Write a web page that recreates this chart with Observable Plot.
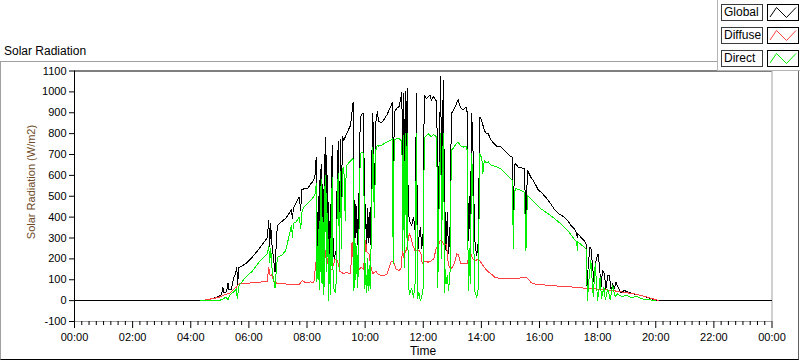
<!DOCTYPE html>
<html>
<head>
<meta charset="utf-8">
<script src="https://cdn.jsdelivr.net/npm/d3@7"></script>
<script src="https://cdn.jsdelivr.net/npm/@observablehq/plot@0.6"></script>
<style>
  html, body { margin: 0; padding: 0; background: #fff; }
  #wrap { position: relative; width: 800px; height: 361px; overflow: hidden; background: #fff;
          font-family: 'Liberation Sans', Arial, sans-serif; }
  #wrap > svg { position: absolute; left: 0; top: 0; }
  .abs { position: absolute; white-space: nowrap; }
</style>
</head>
<body>
<div id="wrap">
  <div class="abs" style="left:0;top:61px;width:797px;height:297px;border-top:1px solid #a0a0a0;border-left:1px solid #a0a0a0;border-right:1px solid #606060;border-bottom:1px solid #000;"></div>
  <div class="abs" id="title" style="left:4px;top:45px;font-size:12px;line-height:12px;color:#000;"></div>
</div>
<script>
// ---- data ----
const chartTitle = "Solar Radiation";
const yTitle = "Solar Radiation (W/m2)";
const xTitle = "Time";
const seriesNames = ["Global", "Diffuse", "Direct"];
const seriesColors = ["#000000", "#ff4040", "#00f000"];
const yTicks = [-100, 0, 100, 200, 300, 400, 500, 600, 700, 800, 900, 1000, 1100];
const xMajorTicks = [0, 2, 4, 6, 8, 10, 12, 14, 16, 18, 20, 22, 24];
const xTickLabels = ["00:00","02:00","04:00","06:00","08:00","10:00","12:00","14:00","16:00","18:00","20:00","22:00","00:00"];

const globalSeries = [
["00:00",0],["04:20",0],["04:30",3],["04:40",8],["04:50",14],["04:58",21],["05:04",30],["05:06",64],["05:09",36],["05:14",42],["05:17",83],["05:19",52],["05:24",55],["05:29",112],["05:32",125],["05:35",158],["05:37",77],["05:39",158],["05:45",165],["05:53",176],["06:07",208],["06:21",248],["06:38",301],["06:41",384],["06:43",260],["06:45",371],["06:47",280],["06:50",220],["06:54",136],["06:57",300],["06:59",360],["07:09",381],["07:16",394],["07:28",435],["07:30",392],["07:32",445],["07:44",496],["07:47",432],["07:49",530],["07:54",536],["08:01",536],["08:08",560],["08:14",576],["08:17",608],
["08:19",688],["08:20",240],["08:21",208],["08:22",420],["08:23",260],["08:24",500],["08:25",180],["08:26",380],["08:27",600],["08:28",300],["08:29",656],["08:30",420],["08:31",200],["08:32",480],["08:33",560],["08:34",250],["08:35",160],["08:36",450],["08:37",700],["08:38",500],["08:39",784],["08:40",420],["08:41",300],["08:42",520],["08:43",600],["08:44",260],["08:45",150],["08:46",380],["08:47",220],["08:48",460],["08:49",180],["08:50",420],["08:51",600],["08:52",744],["08:53",400],["08:54",260],
["08:56",200],["08:58",220],["09:00",240],["09:03",680],["09:05",760],["09:07",300],["09:09",770],["09:11",400],["09:13",784],["09:16",768],["09:20",790],["09:25",816],["09:30",840],["09:35",949],
["09:36",600],["09:37",256],["09:38",400],["09:39",480],["09:40",330],["09:41",300],["09:42",450],["09:43",420],["09:44",300],["09:45",270],["09:46",400],["09:47",450],["09:48",620],["09:50",880],["09:54",896],["09:57",896],
["09:58",600],["09:59",300],["10:00",420],["10:01",460],["10:02",320],["10:03",260],["10:04",380],["10:05",440],["10:06",300],["10:07",280],["10:08",400],["10:09",420],["10:10",300],["10:11",270],["10:12",420],["10:13",600],
["10:16",896],["10:19",480],["10:22",850],["10:25",904],["10:28",860],["10:33",852],["10:38",864],["10:45",890],["10:52",925],["10:56",949],["10:58",192],["11:00",900],["11:05",920],["11:10",930],["11:14",976],["11:16",1000],["11:17",400],["11:18",700],["11:19",990],["11:20",600],["11:21",300],["11:22",800],["11:23",1000],["11:24",700],["11:25",560],["11:26",900],["11:27",1016],["11:29",420],["11:32",380],["11:36",360],["11:40",400],["11:43",340],["11:46",992],["11:48",208],["11:51",300],["11:54",350],["11:57",250],["12:00",330],["12:02",984],["12:06",968],["12:10",975],["12:14",984],["12:17",960],["12:21",976],["12:25",965],["12:28",950],["12:30",320],["12:33",700],["12:36",1075],["12:38",480],["12:40",900],["12:42",1056],["12:44",280],["12:46",420],["12:47",240],["12:49",380],["12:50",420],["12:52",224],["12:54",350],["12:55",260],["12:58",896],["13:02",912],["13:06",930],["13:12",963],["13:16",930],["13:22",912],["13:28",928],["13:31",900],["13:33",288],["13:35",500],["13:37",300],["13:40",896],["13:43",700],["13:46",300],["13:50",216],["13:53",260],["13:57",880],["14:01",860],["14:06",816],["14:10",800],["14:14",800],["14:20",770],["14:26",752],["14:33",736],["14:40",736],["14:47",720],["14:54",704],["15:01",690],["15:04",688],["15:06",336],["15:08",650],["15:11",656],["15:16",640],["15:22",636],["15:29",632],["15:32",352],["15:35",624],["15:42",592],["15:49",568],["15:58",528],["16:03",520],["16:13",495],["16:23",464],["16:30",440],["16:40",416],["16:51",400],["16:58",384],["17:05",360],["17:12",344],["17:17",320],["17:18",300],["17:19",322],["17:25",304],["17:32",288],["17:36",272],["17:38",72],["17:41",180],["17:44",256],["17:46",256],["17:49",180],["17:53",80],["17:57",200],["18:01",224],["18:04",160],["18:07",64],["18:10",144],["18:14",128],["18:17",56],["18:21",120],["18:24",120],["18:28",48],["18:31",80],["18:35",60],["18:38",88],["18:43",60],["18:48",40],["18:55",48],["19:05",40],["19:15",32],["19:30",24],["19:42",16],["19:50",10],["20:00",0],["24:00",0]
];

const diffuseSeries = [
["04:20",0],["04:35",5],["04:50",12],["04:58",16],["05:10",28],["05:20",35],["05:29",56],["05:34",64],["05:36",72],["05:40",80],["06:00",84],["06:20",88],["06:38",93],["06:41",160],["06:44",120],["06:47",125],["06:50",100],["06:54",90],["06:59",80],["07:16",80],["07:30",75],["07:44",78],["07:50",96],["07:54",90],["08:00",85],["08:08",90],["08:14",85],["08:19",192],["08:23",150],["08:27",176],["08:31",150],["08:35",160],["08:39",240],["08:43",180],["08:47",144],["08:52",150],["08:58",200],["09:03",190],["09:08",140],["09:15",130],["09:22",135],["09:30",128],["09:33",280],["09:36",170],["09:40",150],["09:44",176],["09:48",150],["09:52",160],["09:56",150],["09:59",200],["10:01",288],["10:04",230],["10:08",224],["10:12",160],["10:16",130],["10:22",140],["10:28",125],["10:35",120],["10:45",125],["10:53",184],["10:58",190],["11:04",150],["11:10",144],["11:14",152],["11:17",240],["11:20",208],["11:23",232],["11:26",250],["11:31",320],["11:35",300],["11:39",260],["11:43",240],["11:47",240],["11:51",240],["11:55",230],["11:58",176],["12:04",190],["12:10",184],["12:16",190],["12:22",200],["12:27",256],["12:30",250],["12:35",288],["12:38",288],["12:43",264],["12:48",270],["12:52",170],["12:57",150],["13:04",176],["13:09",224],["13:13",220],["13:17",176],["13:24",180],["13:31",176],["13:35",232],["13:38",230],["13:42",200],["13:47",190],["13:53",200],["13:59",184],["14:06",160],["14:13",140],["14:20",128],["14:28",112],["14:35",108],["14:40",104],["15:00",104],["15:15",106],["15:27",112],["15:35",108],["15:42",88],["15:49",80],["16:23",72],["16:58",67],["17:36",59],["18:07",54],["18:41",45],["19:16",32],["19:44",16],["20:02",3],["20:05",0]
];

const directSeries = [
["04:20",0],["04:58",0],["05:04",5],["05:08",10],["05:12",16],["05:17",5],["05:20",24],["05:25",35],["05:30",45],["05:34",56],["05:36",10],["05:40",77],["05:47",93],["05:53",112],["06:07",141],["06:21",184],["06:38",224],["06:41",260],["06:43",180],["06:45",250],["06:48",150],["06:51",100],["06:54",60],["06:57",160],["06:59",208],["07:09",220],["07:16",240],["07:28",360],["07:30",304],["07:32",370],["07:37",376],["07:44",400],["07:47",344],["07:50",432],["07:54",448],["08:01",464],["08:08",480],["08:14",500],["08:17",512],
["08:19",560],["08:20",90],["08:21",112],["08:22",260],["08:23",100],["08:24",340],["08:25",50],["08:26",220],["08:27",400],["08:28",140],["08:29",580],["08:30",260],["08:31",80],["08:32",320],["08:33",400],["08:34",90],["08:35",30],["08:36",290],["08:37",550],["08:38",330],["08:39",600],["08:40",230],["08:41",140],["08:42",340],["08:43",420],["08:44",90],["08:45",0],["08:46",220],["08:47",80],["08:48",300],["08:49",30],["08:50",260],["08:51",440],["08:52",590],["08:53",240],["08:54",110],
["08:56",50],["08:58",40],["09:00",80],["09:03",560],["09:05",608],["09:07",150],["09:09",620],["09:11",250],["09:13",630],["09:16",640],["09:19",384],["09:21",645],["09:25",656],["09:30",670],["09:35",680],
["09:36",420],["09:37",48],["09:38",220],["09:39",300],["09:40",150],["09:41",100],["09:42",260],["09:43",250],["09:44",120],["09:45",60],["09:46",220],["09:47",280],["09:48",450],["09:50",704],["09:54",710],["09:57",704],
["09:58",420],["09:59",60],["10:00",180],["10:01",150],["10:02",60],["10:03",40],["10:04",130],["10:05",200],["10:06",70],["10:07",48],["10:08",150],["10:09",170],["10:10",70],["10:11",60],["10:12",220],["10:13",400],
["10:16",736],["10:19",400],["10:22",720],["10:25",744],["10:28",740],["10:33",744],["10:38",750],["10:45",760],["10:52",768],["10:56",775],["10:58",176],["11:00",770],["11:05",776],["11:10",776],["11:14",768],["11:16",770],["11:17",240],["11:18",500],["11:19",790],["11:20",400],["11:21",160],["11:22",600],["11:23",800],["11:24",480],["11:25",300],["11:26",680],["11:27",800],["11:29",80],["11:32",30],["11:36",60],["11:40",16],["11:43",80],["11:46",800],["11:48",10],["11:51",40],["11:54",0],["11:57",20],["12:00",60],["12:02",780],["12:06",790],["12:10",800],["12:14",790],["12:17",785],["12:21",795],["12:25",790],["12:28",780],["12:30",64],["12:33",500],["12:36",800],["12:38",200],["12:40",700],["12:42",800],["12:44",40],["12:46",150],["12:47",80],["12:49",110],["12:50",120],["12:52",48],["12:54",90],["12:55",80],["12:58",720],["13:02",730],["13:06",745],["13:12",760],["13:16",745],["13:22",735],["13:28",740],["13:31",720],["13:33",48],["13:35",250],["13:37",80],["13:40",704],["13:43",480],["13:46",50],["13:50",16],["13:53",40],["13:57",704],["14:01",680],["14:03",608],["14:06",670],["14:10",660],["14:14",665],["14:20",650],["14:26",645],["14:33",640],["14:40",632],["14:54",600],["15:04",576],["15:06",248],["15:08",520],["15:11",536],["15:22",528],["15:29",520],["15:32",240],["15:35",504],["15:49",472],["16:03",440],["16:23",408],["16:44",368],["16:58",336],["17:10",300],["17:17",280],["17:18",240],["17:19",282],["17:28",264],["17:36",248],["17:39",0],["17:42",100],["17:46",192],["17:51",20],["17:55",176],["18:00",0],["18:03",60],["18:05",112],["18:08",10],["18:13",64],["18:16",5],["18:21",56],["18:26",5],["18:31",72],["18:36",20],["18:41",32],["18:50",20],["19:00",25],["19:10",15],["19:20",20],["19:30",10],["19:40",5],["19:50",3],["20:00",0]
];

// ---- build ----
const hrs = s => { const [h, m] = s.split(":").map(Number); return h + m / 60; };
const toRows = arr => arr.map(([t, v]) => ({ t: hrs(t), v })).sort((a, b) => a.t - b.t);
const seriesRows = [globalSeries, diffuseSeries, directSeries].map(toRows);
const xMinorTicks = d3.range(0, 24.001, 0.25).filter(h => Math.abs(h / 2 - Math.round(h / 2)) > 1e-6);

const fontFam = "'Liberation Sans', Arial, sans-serif";

const chart = Plot.plot({
  width: 800,
  height: 361,
  marginLeft: 74,
  marginRight: 28.5,
  marginTop: 70.5,
  marginBottom: 40,
  x: { domain: [0, 24] },
  y: { domain: [-100, 1100] },
  style: { fontFamily: fontFam, fontSize: "11px", background: "transparent", color: "#000", overflow: "visible" },
  marks: [
    Plot.ruleX([24], { stroke: "#a0a0a0" }),
    Plot.ruleY([-100], { stroke: "#a0a0a0" }),
    ...seriesRows.map((rows, i) =>
      Plot.line(rows, { x: "t", y: "v", stroke: seriesColors[i], strokeWidth: 1, shapeRendering: "crispEdges" })
    ),
    Plot.ruleX([0], { stroke: "#000" }),
    Plot.ruleY([1100], { stroke: "#000" }),
    Plot.axisY({ ticks: yTicks, tickSize: 5, tickPadding: 3, label: null, fontSize: 11, tickFormat: d => String(d) }),
    Plot.axisX({ ticks: xMajorTicks, tickSize: 7, tickPadding: 5, label: null, fontSize: 11,
                 tickFormat: d => xTickLabels[xMajorTicks.indexOf(d)] }),
    Plot.axisX({ ticks: xMinorTicks, tickSize: 4, label: null, tickFormat: () => "" })
  ]
});

const wrap = document.getElementById("wrap");
wrap.appendChild(chart);
document.getElementById("title").textContent = chartTitle;

// axis titles
const yl = document.createElement("div");
yl.className = "abs";
yl.textContent = yTitle;
yl.style.cssText += "left:31px;top:182px;font-size:11px;line-height:11px;color:#6e4a26;transform:translate(-50%,-50%) rotate(-90deg);";
wrap.appendChild(yl);

const xl = document.createElement("div");
xl.className = "abs";
xl.textContent = xTitle;
xl.style.cssText += "left:423px;top:345px;font-size:12px;line-height:12px;color:#000;transform:translateX(-50%);";
wrap.appendChild(xl);

// legend
const lg = document.createElement("div");
lg.className = "abs";
lg.style.cssText += "left:717px;top:0;width:83px;height:71px;background:#fff;border-left:1px solid #b4b4b4;border-bottom:1px solid #b4b4b4;box-sizing:border-box;";
wrap.appendChild(lg);
seriesNames.forEach((name, i) => {
  const top = 4 + 23 * i;
  const lab = document.createElement("div");
  lab.className = "abs";
  lab.textContent = name;
  lab.style.cssText += `left:721px;top:${top}px;width:42px;height:17px;box-sizing:border-box;border:1px solid #3c3c3c;background:#fff;font-size:12px;line-height:15px;padding-left:2px;color:#000;`;
  wrap.appendChild(lab);
  const sw = document.createElement("div");
  sw.className = "abs";
  sw.style.cssText += `left:767px;top:${top}px;width:32px;height:17px;box-sizing:border-box;border:1px solid #000;background:#fff;`;
  sw.innerHTML = `<svg width="30" height="15" style="position:absolute;left:0;top:0"><polyline points="2,12 8.5,2.5 18.5,12.5 28,2.5" fill="none" stroke="${seriesColors[i]}" stroke-width="1"/></svg>`;
  wrap.appendChild(sw);
});
</script>
</body>
</html>
